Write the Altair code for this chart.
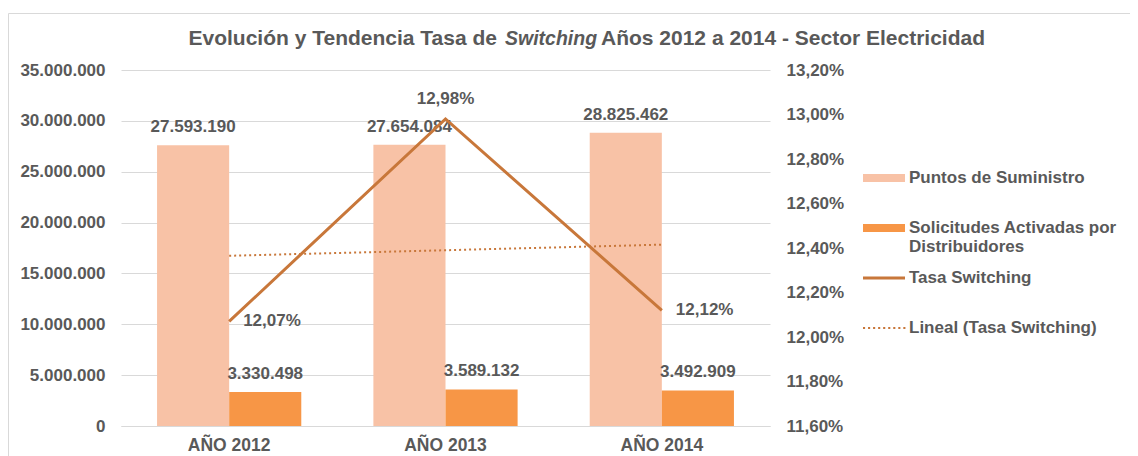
import altair as alt
import pandas as pd

# ---- data ----
years = ["AÑO 2012", "AÑO 2013", "AÑO 2014"]
puntos = [27593190, 27654084, 28825462]
solicitudes = [3330498, 3589132, 3492909]
tasa = [0.1207, 0.1298, 0.1212]
tendencia = [0.12365, 0.1239, 0.12415]  # linear trend of the rate, as drawn

series_labels = ["Puntos de Suministro", "Solicitudes Activadas por Distribuidores",
                 "Tasa Switching", "Lineal (Tasa Switching)"]
colors = ["#F8C2A6", "#F79646", "#C8773A", "#C8773A"]
left_ticks = [0, 5000000, 10000000, 15000000, 20000000, 25000000, 30000000, 35000000]
right_ticks = [0.116, 0.118, 0.120, 0.122, 0.124, 0.126, 0.128, 0.130, 0.132]

TXT = "#595959"
FONT = "Liberation Sans"
FS = 17

bars_df = pd.DataFrame({
    "anio": years * 2,
    "serie": [series_labels[0]] * 3 + [series_labels[1]] * 3,
    "valor": puntos + solicitudes,
})
line_df = pd.DataFrame({"anio": years, "tasa": tasa, "trend": tendencia})
leg_df = pd.DataFrame({"serie": series_labels})

x_enc = alt.X("anio:N", sort=years, title=None,
              scale=alt.Scale(paddingInner=1/3, paddingOuter=1/6),
              axis=alt.Axis(labelAngle=0, ticks=False, domainColor="#D9D9D9",
                            labelFont=FONT, labelFontSize=17.5, labelFontWeight="bold",
                            labelColor=TXT, labelPadding=10, grid=False))

color_scale = alt.Scale(domain=series_labels, range=colors)
pad = " M0,-0.85 M0,1.38"
shape_paths = [
    "M-1,-0.19H1V0.19H-1Z" + pad,
    "M-1,-0.19H1V0.19H-1Z" + pad,
    "M-1,-0.075H1V0.075H-1Z" + pad,
    " ".join(f"M{-1 + i*0.24:.3f},-0.05h0.1v0.1h-0.1Z" for i in range(9)) + pad,
]
legend = alt.Legend(
    title=None, orient="none", legendX=742, legendY=87,
    labelFont=FONT, labelFontSize=FS, labelFontWeight="bold", labelColor=TXT,
    symbolSize=1764, symbolStrokeWidth=0, symbolOpacity=1, rowPadding=0,
    labelOffset=4, labelLimit=400,
    labelExpr="datum.label == 'Solicitudes Activadas por Distribuidores' ? ['Solicitudes Activadas por', 'Distribuidores'] : datum.label",
)

y_left = alt.Y("valor:Q", title=None,
               scale=alt.Scale(domain=[0, 35000000], nice=False),
               axis=alt.Axis(values=left_ticks, format=",d", ticks=False, domain=False,
                             gridColor="#D9D9D9", labelFont=FONT, labelFontSize=FS,
                             labelFontWeight="bold", labelColor=TXT, labelPadding=16))

bars = alt.Chart(bars_df).mark_bar().encode(
    x=x_enc,
    xOffset=alt.XOffset("serie:N", sort=series_labels[:2]),
    y=y_left,
    color=alt.Color("serie:N", scale=color_scale, legend=legend),
)
bar_labels = alt.Chart(bars_df).mark_text(
    dy=-18, font=FONT, fontSize=FS, fontWeight="bold", color=TXT
).encode(
    x=alt.X("anio:N", sort=years),
    xOffset=alt.XOffset("serie:N", sort=series_labels[:2]),
    y=alt.Y("valor:Q"),
    text=alt.Text("valor:Q", format=",d"),
)
left = alt.layer(bars, bar_labels)

y_right = alt.Y("tasa:Q", title=None,
                scale=alt.Scale(domain=[0.116, 0.132], nice=False, zero=False),
                axis=alt.Axis(orient="right", values=right_ticks, format=".2%", ticks=False,
                              domain=False, grid=False, labelFont=FONT, labelFontSize=FS,
                              labelFontWeight="bold", labelColor=TXT, labelPadding=16))

trend = alt.Chart(line_df).mark_line(
    color=colors[3], strokeWidth=2, strokeDash=[2, 3]
).encode(x=alt.X("anio:N", sort=years), y=alt.Y("trend:Q"))
line = alt.Chart(line_df).mark_line(
    color=colors[2], strokeWidth=3
).encode(x=alt.X("anio:N", sort=years), y=y_right)
lab_right = alt.Chart(line_df).transform_filter(
    alt.FieldOneOfPredicate(field="anio", oneOf=[years[0], years[2]])
).mark_text(align="left", dx=14, font=FONT, fontSize=FS, fontWeight="bold", color=TXT
).encode(x=alt.X("anio:N", sort=years), y=alt.Y("tasa:Q"),
         text=alt.Text("tasa:Q", format=".2%"))
lab_top = alt.Chart(line_df).transform_filter(
    alt.FieldEqualPredicate(field="anio", equal=years[1])
).mark_text(dy=-20, font=FONT, fontSize=FS, fontWeight="bold", color=TXT
).encode(x=alt.X("anio:N", sort=years), y=alt.Y("tasa:Q"),
         text=alt.Text("tasa:Q", format=".2%"))
leg_pts = alt.Chart(leg_df).mark_point(filled=True, opacity=0).encode(
    color=alt.Color("serie:N", scale=color_scale, legend=legend),
    shape=alt.Shape("serie:N", scale=alt.Scale(domain=series_labels, range=shape_paths),
                    legend=legend),
)
right = alt.layer(trend, line, lab_right, lab_top, leg_pts)

# title pieces (Switching in italic) and the chart frame
t_style = dict(font=FONT, fontWeight="bold", color=TXT, baseline="middle")
title1 = alt.Chart(leg_df.head(1)).mark_text(align="right", fontSize=21, **t_style).encode(
    x=alt.value(376), y=alt.value(-31), text=alt.value("Evolución  y Tendencia Tasa de"))
title2 = alt.Chart(leg_df.head(1)).mark_text(align="left", fontStyle="italic", fontSize=19.5,
                                             **t_style).encode(
    x=alt.value(384), y=alt.value(-31), text=alt.value("Switching"))
title3 = alt.Chart(leg_df.head(1)).mark_text(align="left", fontSize=21, **t_style).encode(
    x=alt.value(480), y=alt.value(-31), text=alt.value("Años 2012 a 2014 - Sector Electricidad"))
frame = alt.Chart(leg_df.head(1)).mark_rect(fill=None, stroke="#D9D9D9", strokeWidth=1).encode(
    x=alt.value(-112.5), x2=alt.value(1030), y=alt.value(-56.5), y2=alt.value(400))

chart = alt.layer(frame, left, right, title1, title2, title3).resolve_scale(
    y="independent"
).properties(
    width=649, height=356,
    autosize=alt.AutoSizeParams(type="none"),
    padding={"left": 113, "top": 62, "right": 360, "bottom": 30},
).configure_view(stroke=None)

chart.save("out.html", embed_options={
    "renderer": "svg", "actions": False,
    "formatLocale": {"decimal": ",", "thousands": ".", "grouping": [3], "currency": ["", " €"]},
})
